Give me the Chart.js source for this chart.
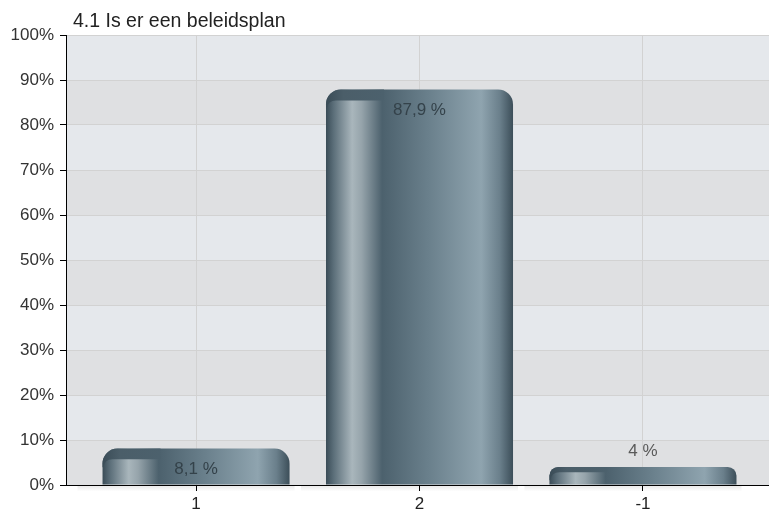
<!DOCTYPE html>
<html>
<head>
<meta charset="utf-8">
<script src="https://cdn.jsdelivr.net/npm/chart.js@4.4.0/dist/chart.umd.min.js"></script>
<style>
  html, body { margin: 0; padding: 0; background: #fff; }
</style>
</head>
<body>
<canvas id="myChart" width="769" height="513"></canvas>
<script>
const chartTitle = "4.1 Is er een beleidsplan"
const categories = ["1", "2", "-1"]
const percentages = [8.1, 87.9, 4]
const yMax = 100
const yStep = 10

const FONT = "'Liberation Sans', Arial, Helvetica, sans-serif"

// cylinder look, left -> right across the bar
function barGradient(c) {
  const chart = c.chart
  const xs = chart.scales.x
  if (!xs || c.dataIndex === undefined) return "#5f7480"
  const cx = xs.getPixelForValue(c.dataIndex)
  const half = (xs.getPixelForValue(1) - xs.getPixelForValue(0)) * 0.837 / 2
  if (!isFinite(cx) || !isFinite(half) || half <= 0) return "#5f7480"
  const g = chart.ctx.createLinearGradient(cx - half, 0, cx + half, 0)
  g.addColorStop(0, "#3a4c57")
  g.addColorStop(0.04, "#5b6e79")
  g.addColorStop(0.14, "#a9b6bc")
  g.addColorStop(0.19, "#96a4ab")
  g.addColorStop(0.30, "#4c616d")
  g.addColorStop(0.55, "#6a808c")
  g.addColorStop(0.83, "#8fa4af")
  g.addColorStop(0.93, "#6a7f8b")
  g.addColorStop(1, "#3c4e59")
  return g
}

const bands = {
  id: "bands",
  beforeDraw(chart) {
    const { ctx, chartArea, scales } = chart
    ctx.save()
    ctx.fillStyle = "#fff"
    ctx.fillRect(0, 0, chart.width, chart.height)
    for (let v = 0; v < yMax; v += yStep) {
      const top = scales.y.getPixelForValue(v + yStep)
      const bot = scales.y.getPixelForValue(v)
      ctx.fillStyle = (v / yStep) % 2 === 0 ? "#dfe0e2" : "#e5e8ec"
      ctx.fillRect(chartArea.left, top, chartArea.right - chartArea.left, bot - top)
    }
    ctx.restore()
  },
  afterDatasetsDraw(chart) {
    const { ctx } = chart
    const meta = chart.getDatasetMeta(0)
    ctx.save()
    meta.data.forEach((bar, i) => {
      const { x, y, base, width } = bar.getProps(["x", "y", "base", "width"], true)
      const left = x - width / 2
      const h = base - y
      const r = Math.min(15, h / 2)

      // soft shadow under the base line
      const sg = ctx.createLinearGradient(0, base, 0, base + 7)
      sg.addColorStop(0, "rgba(0,0,0,0.10)")
      sg.addColorStop(1, "rgba(0,0,0,0)")
      ctx.fillStyle = sg
      ctx.fillRect(left - 25, base + 1, width + 30, 7)

      // dark cap over the top-left highlight
      ctx.save()
      ctx.beginPath()
      ctx.roundRect(left, y, width, h, [r, r, 0, 0])
      ctx.clip()
      const capH = Math.min(11, h * 0.3)
      const g = ctx.createLinearGradient(left, 0, left + width * 0.31, 0)
      g.addColorStop(0, "#3a4c57")
      g.addColorStop(0.3, "#4b5e69")
      g.addColorStop(1, "#4c616d")
      ctx.fillStyle = g
      ctx.beginPath()
      ctx.moveTo(left - 1, y - 1)
      ctx.lineTo(left + width * 0.31, y - 1)
      ctx.lineTo(left + width * 0.31, y + capH)
      ctx.lineTo(left + 10, y + capH)
      ctx.quadraticCurveTo(left + 2, y + capH, left + 1, y + capH + 8)
      ctx.lineTo(left - 1, y + capH + 8)
      ctx.closePath()
      ctx.fill()
      ctx.restore()

      // value label
      const v = percentages[i]
      const txt = String(v).replace(".", ",") + " %"
      ctx.font = "17px " + FONT
      ctx.textAlign = "center"
      ctx.textBaseline = "middle"
      if (h > 30) {
        ctx.fillStyle = "#34424a"
        ctx.fillText(txt, x, y + 21)
      } else {
        ctx.fillStyle = "#5a5a5a"
        ctx.fillText(txt, x, y - 16)
      }
    })
    ctx.restore()
  },
  afterDraw(chart) {
    const { ctx } = chart
    ctx.save()
    ctx.font = "19.5px " + FONT
    ctx.fillStyle = "#222"
    ctx.textAlign = "left"
    ctx.textBaseline = "alphabetic"
    ctx.fillText(chartTitle, 73, 27)
    ctx.restore()
  }
}

const ctx = document.getElementById("myChart").getContext("2d")

const data = {
  datasets: [{
    data: percentages.map((v, i) => ({ x: i, y: v })),
    backgroundColor: barGradient,
    borderWidth: 0,
    borderRadius: { topLeft: 15, topRight: 15, bottomLeft: 0, bottomRight: 0 },
    borderSkipped: "bottom",
    barPercentage: 0.837,
    categoryPercentage: 1,
  }],
}

const config = {
  type: "bar",
  data: data,
  plugins: [bands],
  options: {
    responsive: false,
    animation: false,
    layout: { padding: { top: 35, right: 0, left: 0, bottom: 0 } },
    plugins: {
      legend: { display: false },
      title: { display: false },
      tooltip: { enabled: false },
    },
    scales: {
      x: {
        type: "linear",
        min: -0.582,
        max: 2.564,
        offset: false,
        afterBuildTicks: (scale) => {
          scale.ticks = categories.map((c, i) => ({ value: i }))
        },
        afterFit: (scale) => { scale.height = 28 },
        ticks: {
          callback: (v) => categories[v],
          color: "#222",
          font: { family: FONT, size: 17 },
          padding: 3,
          autoSkip: false,
          maxRotation: 0,
        },
        grid: { offset: false, color: "#d2d2d2", tickColor: "#000", tickLength: 6 },
        border: { color: "#000", width: 1 },
      },
      y: {
        min: 0,
        max: yMax,
        afterFit: (scale) => { scale.width = 66 },
        ticks: {
          stepSize: yStep,
          callback: (v) => v + "%",
          color: "#333",
          font: { family: FONT, size: 17 },
          padding: 6,
        },
        grid: { color: "#d2d2d2", tickColor: "#000", tickLength: 6 },
        border: { color: "#000", width: 1 },
      },
    },
  },
}

const myChart = new Chart(ctx, config)
</script>
</body>
</html>
